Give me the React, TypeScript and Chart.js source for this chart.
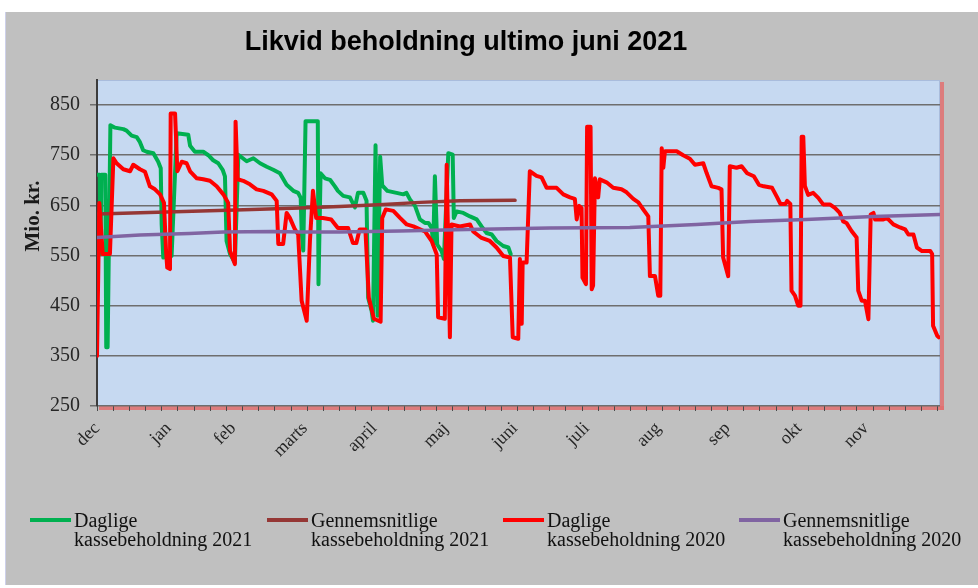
import React, { useEffect, useRef } from "react";
import { Chart, registerables } from "chart.js";

Chart.register(...registerables);

// ---------- texts / categories ----------
const TITLE = "Likvid beholdning ultimo juni 2021";
const Y_TITLE = "Mio. kr.";
const MONTH_LABELS = ["dec", "jan", "feb", "marts", "april", "maj", "juni", "juli", "aug", "sep", "okt", "nov"];
const MONTH_START_DAYS = [0, 31, 59, 90, 120, 151, 181, 212, 243, 273, 304, 333];
const Y_TICKS = [250, 350, 450, 550, 650, 750, 850];
const Y_MIN = 250;
const Y_MAX = 900;
const X_MAX = 365;
const WEEK = 7;

const LABEL_DAILY_2021 = "Daglige kassebeholdning 2021";
const LABEL_AVG_2021 = "Gennemsnitlige kassebeholdning 2021";
const LABEL_DAILY_2020 = "Daglige kassebeholdning 2020";
const LABEL_AVG_2020 = "Gennemsnitlige kassebeholdning 2020";

// ---------- series values: [day index from 1 Dec, mio. kr.] ----------
const daily2021: [number, number][] = [
  [0, 711], [1.2, 711], [1.5, 553], [1.9, 711], [3.6, 711], [4, 367], [4.6, 367], [5.8, 810],
  [7.8, 805], [11.4, 802], [12.8, 799], [15, 789], [17.2, 786], [18.6, 776], [20, 760], [21.5, 757],
  [24.4, 754], [26.5, 737], [27.6, 724], [28, 612], [28.7, 546], [32.3, 549], [34.5, 794], [39.5, 791],
  [40.3, 769], [42.4, 757], [46, 757], [48.2, 750], [50.3, 740], [52.5, 734], [54.4, 721], [55.4, 708],
  [56.1, 579], [57.6, 553], [59.7, 536], [61.2, 751], [64.8, 738], [67.7, 744], [70.6, 734], [73.5, 727],
  [76.3, 721], [79.2, 714], [82.1, 691], [85, 679], [87.1, 675], [88.2, 665], [88.6, 599], [89.3, 560],
  [90.3, 818], [95.6, 818], [95.9, 493], [96.8, 714], [98.7, 704], [100.9, 701], [103, 688], [104.3, 679],
  [106.6, 669], [109.5, 666], [111.7, 646], [113, 675], [115.3, 675], [116.7, 659], [117.4, 466], [118.9, 440],
  [119.5, 420], [120.6, 770], [121.5, 430], [122.6, 747], [123.5, 690], [125.7, 679], [129.7, 675], [132.6, 672],
  [134, 675], [135.5, 662], [137.7, 649], [139.8, 622], [142, 615], [143.5, 615], [144.9, 605], [145.6, 572],
  [146.3, 708], [147.3, 572], [149.2, 559], [150.2, 543], [152.1, 754], [154, 751], [154.5, 625], [155.7, 638],
  [158.6, 635], [161.5, 628], [164.4, 622], [166.5, 608], [168.7, 595], [170.9, 592], [173, 579], [175.9, 569],
  [178.1, 566], [179.1, 553],
];

const average2021: [number, number][] = [
  [0, 633], [30, 637], [60, 641], [88, 645], [105, 648], [124, 652], [140, 656], [157, 659], [181, 660],
];

const daily2020: [number, number][] = [
  [0, 350], [1, 655], [2.5, 553], [5.6, 553], [7.1, 744], [8.5, 734], [11.4, 722], [14.3, 718],
  [15.7, 731], [18.6, 722], [20.8, 717], [22.9, 688], [25.1, 682], [27.3, 672], [29, 655], [29.9, 559],
  [30.4, 526], [31.6, 523], [31.9, 833], [33.8, 833], [34.8, 718], [36.7, 737], [38.8, 734], [40.3, 718],
  [43.2, 704], [46, 702], [48.9, 699], [51.8, 688], [54.7, 672], [56.8, 655], [57.6, 559], [59.7, 533],
  [60, 817], [60.9, 702], [63.3, 699], [66.2, 692], [69.1, 682], [72, 679], [75.6, 672], [77.8, 659],
  [78.5, 573], [80.6, 573], [82.1, 635], [83.5, 625], [85.7, 602], [87.1, 592], [88.6, 460], [90.8, 420],
  [92.2, 580], [93.5, 679], [94.9, 625], [97.8, 625], [101.4, 622], [104.3, 605], [108.7, 605], [110.8, 575],
  [112.3, 575], [113.7, 602], [116.2, 602], [117.7, 466], [119.9, 424], [122.8, 418], [123.5, 625], [125, 642],
  [128.3, 639], [131.2, 625], [134.1, 612], [137, 608], [142, 598], [144.9, 579], [147.1, 552], [147.7, 427],
  [150.6, 424], [151.4, 731], [152.8, 387], [153.5, 612], [157.1, 608], [161.5, 612], [162.9, 598], [166.5, 585],
  [170.1, 579], [173, 566], [175.9, 549], [178.8, 546], [180, 387], [182.4, 384], [183.1, 543], [183.9, 414],
  [184.3, 536], [186, 536], [187.4, 718], [190.3, 709], [192.5, 706], [194.7, 685], [199, 685], [201.9, 672],
  [204.8, 666], [206.9, 663], [207.7, 622], [208.8, 649], [209.8, 645], [210.2, 506], [211.7, 493], [212.2, 807],
  [213.7, 807], [214.2, 483], [214.8, 490], [215.6, 704], [217, 666], [217.7, 702], [220.6, 696], [223.5, 685],
  [227.1, 682], [229.3, 676], [232.2, 663], [234.4, 656], [236.5, 642], [238.7, 628], [239.4, 509], [241.6, 509],
  [243, 470], [243.9, 470], [244.5, 764], [245.2, 725], [245.9, 758], [251, 758], [253.8, 750], [256.7, 743],
  [258.9, 731], [262.5, 734], [264, 714], [266.1, 688], [269, 685], [270.4, 682], [271.1, 546], [273.3, 509],
  [274, 728], [276.9, 725], [279.1, 728], [281.5, 714], [284.4, 708], [286.6, 691], [288.7, 688], [292.3, 685],
  [294.5, 666], [295.9, 653], [298.1, 653], [298.8, 659], [300.2, 653], [300.7, 480], [302.2, 470], [303.6, 450],
  [304.6, 450], [305.1, 787], [305.8, 787], [306.5, 689], [307.9, 671], [310.1, 675], [312.3, 665], [314.4, 652],
  [317.3, 652], [319.5, 645], [321.6, 635], [323.1, 618], [324.5, 615], [326.7, 599], [328.9, 586], [329.6, 480],
  [331.1, 460], [332.5, 460], [334, 423], [335, 632], [336.2, 635], [336.9, 622], [340.5, 622], [342, 625],
  [344.8, 612], [347.7, 606], [349.9, 602], [351.3, 592], [353.5, 592], [355, 566], [357.2, 559], [360.8, 559],
  [361.6, 553], [362, 410], [363.8, 390], [364.5, 387],
];

const average2020: [number, number][] = [
  [0, 586], [18.6, 591], [40, 594], [54.7, 597], [76, 598], [88, 597], [105, 597], [131, 599],
  [160, 602], [196, 605], [230.7, 606], [259.6, 612], [282.7, 618], [307, 622], [336, 628], [365, 632],
];

const COLORS = {
  daily2021: "#00b050",
  avg2021: "#953735",
  daily2020: "#ff0000",
  avg2020: "#8064a2",
};

const SERIF = '"Liberation Serif", "Times New Roman", serif';
const SANS = '"Liberation Sans", Arial, sans-serif';

const toPoints = (arr: [number, number][]) => arr.map(([x, y]) => ({ x, y }));

const decorPlugin = {
  id: "decor",
  beforeDraw(chart: any) {
    const { ctx, chartArea: a, width, height } = chart;
    ctx.save();
    ctx.fillStyle = "#ffffff";
    ctx.fillRect(0, 0, width, height);
    ctx.fillStyle = "#c0c0c0";
    ctx.fillRect(6, 12, width - 6, height - 15);
    ctx.fillStyle = "#cdd0ea";
    ctx.fillRect(5, 12, 1, height - 15);
    // reddish shadow of the plot area
    ctx.fillStyle = "rgba(226,112,112,0.85)";
    ctx.fillRect(a.right, a.top + 2, 4, a.bottom - a.top + 2);
    ctx.fillRect(a.left + 2, a.bottom, a.right - a.left + 2, 4);
    ctx.fillStyle = "#c6d9f1";
    ctx.fillRect(a.left, a.top, a.right - a.left, a.bottom - a.top);
    ctx.strokeStyle = "#a9bcdc";
    ctx.lineWidth = 1;
    ctx.strokeRect(a.left + 0.5, a.top + 0.5, a.right - a.left - 1, a.bottom - a.top - 1);
    ctx.restore();
  },
  afterDraw(chart: any) {
    const { ctx } = chart;
    ctx.save();
    // title
    ctx.fillStyle = "#000000";
    ctx.font = `bold 27px ${SANS}`;
    ctx.textAlign = "center";
    ctx.textBaseline = "alphabetic";
    ctx.fillText(TITLE, 466, 50);
    // y axis title
    ctx.save();
    ctx.translate(34, 216);
    ctx.rotate(-Math.PI / 2);
    ctx.font = `bold 21px ${SERIF}`;
    ctx.textAlign = "center";
    ctx.textBaseline = "middle";
    ctx.fillStyle = "#1a1a1a";
    ctx.fillText(Y_TITLE, 0, 0);
    ctx.restore();
    // legend
    const starts = [30, 267, 503, 739];
    chart.data.datasets.forEach((ds: any, i: number) => {
      const lx = starts[i];
      ctx.strokeStyle = ds.borderColor;
      ctx.lineWidth = 4;
      ctx.beginPath();
      ctx.moveTo(lx, 520);
      ctx.lineTo(lx + 41, 520);
      ctx.stroke();
      const label: string = ds.label;
      const sp = label.indexOf(" ");
      const lines = [label.slice(0, sp), label.slice(sp + 1)];
      ctx.fillStyle = "#111111";
      ctx.font = `20px ${SERIF}`;
      ctx.textAlign = "left";
      ctx.textBaseline = "alphabetic";
      lines.forEach((t, j) => ctx.fillText(t, lx + 44, 527 + j * 19));
    });
    ctx.restore();
  },
};

export default function App() {
  const ref = useRef<HTMLCanvasElement>(null);
  useEffect(() => {
    document.body.style.margin = "0";
    const canvas = ref.current;
    if (!canvas) return;
    const chart = new Chart(canvas, {
      type: "line",
      data: {
        datasets: [
          {
            label: LABEL_DAILY_2021,
            data: toPoints(daily2021),
            borderColor: COLORS.daily2021,
            borderWidth: 4,
            pointRadius: 0,
            order: 4,
          },
          {
            label: LABEL_AVG_2021,
            data: toPoints(average2021),
            borderColor: COLORS.avg2021,
            borderWidth: 3.5,
            pointRadius: 0,
            order: 3,
          },
          {
            label: LABEL_DAILY_2020,
            data: toPoints(daily2020),
            borderColor: COLORS.daily2020,
            borderWidth: 4,
            pointRadius: 0,
            order: 2,
          },
          {
            label: LABEL_AVG_2020,
            data: toPoints(average2020),
            borderColor: COLORS.avg2020,
            borderWidth: 3.5,
            pointRadius: 0,
            order: 1,
          },
        ],
      },
      options: {
        animation: false,
        responsive: false,
        events: [],
        layout: { padding: { top: 80, right: 38, bottom: 117, left: 0 } },
        plugins: {
          legend: { display: false },
          title: { display: false },
          tooltip: { enabled: false },
        },
        elements: { line: { tension: 0, borderJoinStyle: "round", borderCapStyle: "round" } },
        scales: {
          xw: {
            type: "linear",
            position: "bottom",
            weight: 0,
            min: 0,
            max: X_MAX,
            afterBuildTicks: (scale: any) => {
              const t: { value: number }[] = [];
              for (let d = 0; d <= X_MAX; d += WEEK) t.push({ value: d });
              scale.ticks = t;
            },
            afterFit: (scale: any) => {
              scale.height = 5;
            },
            ticks: { display: false },
            grid: { drawOnChartArea: false, drawTicks: true, tickLength: 5, color: "#4a4a4a", lineWidth: 1 },
            border: { display: false },
          },
          x: {
            type: "linear",
            position: "bottom",
            weight: 1,
            min: 0,
            max: X_MAX,
            afterBuildTicks: (scale: any) => {
              scale.ticks = MONTH_START_DAYS.map((v) => ({ value: v }));
            },
            afterFit: (scale: any) => {
              scale.height = 60;
            },
            ticks: {
              autoSkip: false,
              maxRotation: 45,
              minRotation: 45,
              padding: 7,
              color: "#262626",
              font: { family: SERIF, size: 18 },
              callback: (value: any) => {
                const i = MONTH_START_DAYS.indexOf(Number(value));
                return i >= 0 ? MONTH_LABELS[i] : "";
              },
            },
            grid: { display: false, drawTicks: false },
            border: { display: false },
          },
          y: {
            type: "linear",
            min: Y_MIN,
            max: Y_MAX,
            afterBuildTicks: (scale: any) => {
              scale.ticks = Y_TICKS.map((v) => ({ value: v }));
            },
            afterFit: (scale: any) => {
              scale.width = 97;
            },
            ticks: {
              padding: 10,
              color: "#262626",
              font: { family: SERIF, size: 20 },
            },
            grid: { color: "#6e6e6e", lineWidth: 1.5, drawTicks: true, tickLength: 7 },
            border: { display: true, color: "#3c3c3c", width: 2 },
          },
        },
      },
      plugins: [decorPlugin],
    } as any);
    return () => chart.destroy();
  }, []);
  return (
    <div style={{ position: "relative", width: 978, height: 588 }}>
      <canvas ref={ref} width={978} height={588} style={{ display: "block", width: 978, height: 588 }} />
    </div>
  );
}
